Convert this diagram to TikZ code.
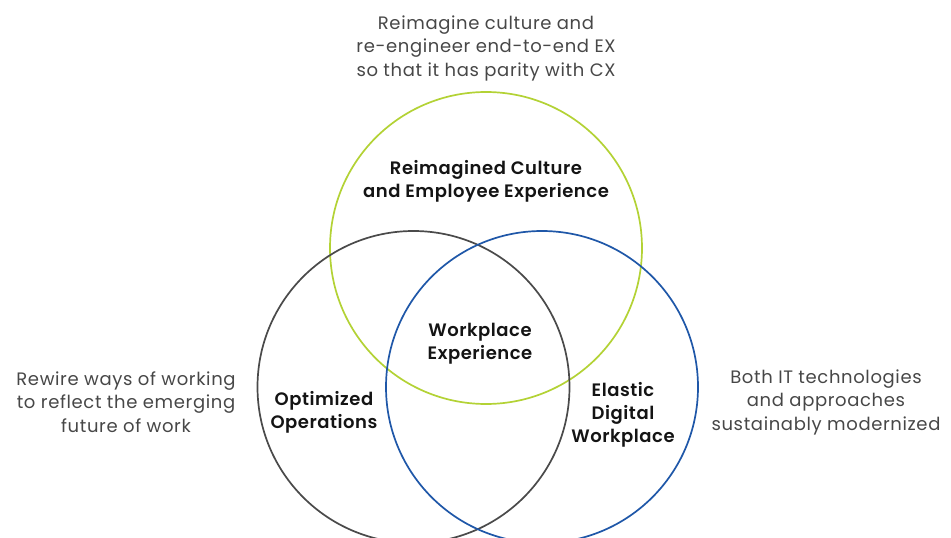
\documentclass[tikz,border=0pt]{standalone}
\usepackage{fontspec}
\setmainfont{Poppins}[LetterSpace=3.5]
\newfontfamily\medfont{Poppins SemiBold}[LetterSpace=3.0]
\begin{document}
\begin{tikzpicture}[x=1pt,y=-1pt,
  ring/.style={circle,draw,line width=1.7pt,minimum size=312pt,inner sep=0pt},
  caption/.style={align=center,inner sep=0pt,text=black!72,font=\fontsize{18}{23.5}\selectfont},
  title/.style={align=center,inner sep=0pt,text=black!92,font=\medfont\fontsize{18}{23}\selectfont}]
\definecolor{vgreen}{HTML}{B3D235}
\definecolor{vblue}{HTML}{1F57A8}
\definecolor{vgray}{HTML}{4A4A4A}
\useasboundingbox (0,0) rectangle (951,538);
\node[ring,draw=vgreen] (culture) at (486,248) {};
\node[ring,draw=vgray] (ops) at (413.5,387) {};
\node[ring,draw=vblue] (digital) at (542,387) {};
\node[caption] (topcap) at (486,48) {Reimagine culture and\\re-engineer end-to-end EX\\so that it has parity with CX};
\node[caption] (leftcap) at (126,402) {Rewire ways of working\\to reflect the emerging\\future of work};
\node[caption] (rightcap) at (826,402) {Both IT technologies\\and approaches\\sustainably modernized};
\node[title] (tculture) at (486,181.5) {Reimagined Culture\\and Employee Experience};
\node[title] (tcenter) at (480,343.5) {Workplace\\Experience};
\node[title] (tops) at (324,412.5) {Optimized\\Operations};
\node[title] (tdigital) at (623,415) {Elastic\\Digital\\Workplace};
\end{tikzpicture}
\end{document}
